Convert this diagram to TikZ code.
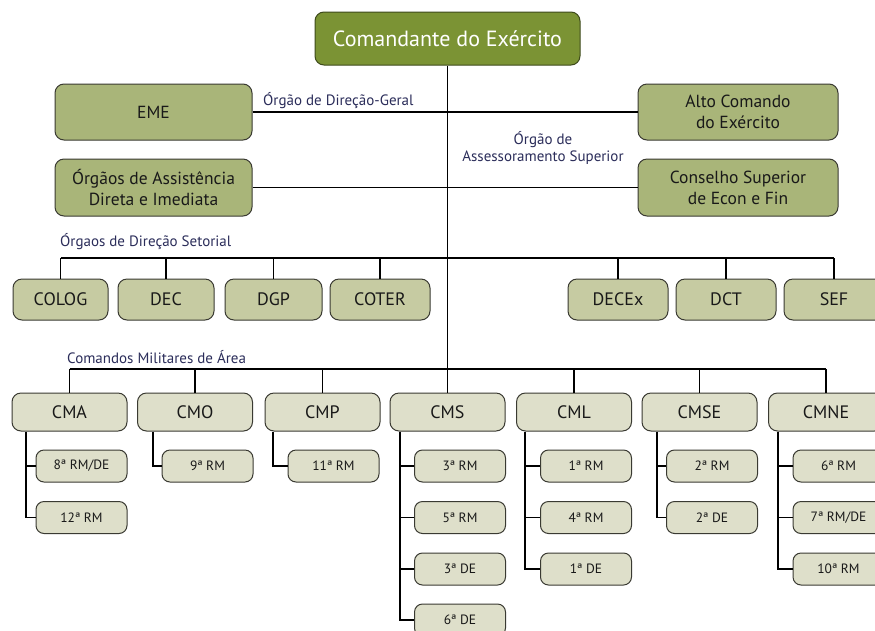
\documentclass[tikz,border=0pt]{standalone}
\usepackage{fontspec}
\setmainfont{PT Sans}
\definecolor{topfill}{HTML}{7B9334}
\definecolor{topdraw}{HTML}{3E4A1C}
\definecolor{lvtwo}{HTML}{A9B579}
\definecolor{sectfill}{HTML}{C6CBA2}
\definecolor{cmfill}{HTML}{DEDFCA}
\definecolor{boxdraw}{HTML}{3A3A32}
\definecolor{lbl}{HTML}{2B2D5A}
\begin{document}
\begin{tikzpicture}[x=1pt,y=-1pt,
  conn/.style={draw=black,line width=1.2pt},
  basebox/.style={draw=boxdraw,line width=1pt,rounded corners=9pt,align=center,inner sep=0pt,text=black!90},
  topbox/.style={basebox,fill=topfill,draw=topdraw,text=white,minimum width=265pt,minimum height=53pt,font=\fontsize{22}{25}\selectfont},
  lvbox/.style={basebox,fill=lvtwo,minimum width=197pt,minimum height=56pt,font=\fontsize{17.5}{21}\selectfont},
  secbox/.style={basebox,fill=sectfill,minimum height=41pt,font=\fontsize{18}{21}\selectfont},
  cmbox/.style={basebox,fill=cmfill,minimum width=115pt,minimum height=38pt,font=\fontsize{18}{21}\selectfont},
  subbox/.style={basebox,fill=cmfill,rounded corners=8pt,minimum width=91pt,minimum height=32pt,font=\fontsize{13.5}{15}\selectfont},
  lab/.style={text=lbl,inner sep=0pt,font=\fontsize{15}{17}\selectfont,align=center}]
\useasboundingbox (0,0) rectangle (875,630);
\clip (0,0) rectangle (875,630);
\fill[white] (0,0) rectangle (875,630);

% top
\node[topbox] (top) at (447.5,38.5) {Comandante do Exército};
% level 2
\node[lvbox] (eme) at (153.5,112) {EME};
\node[lvbox,minimum width=200pt] (alto) at (738,112) {Alto Comando\\do Exército};
\node[lvbox,minimum height=57pt] (assist) at (153.5,187.5) {Órgãos de Assistência\\Direta e Imediata};
\node[lvbox,minimum width=200pt,minimum height=57pt] (cons) at (738,187.5) {Conselho Superior\\de Econ e Fin};

% sector boxes
\node[secbox,minimum width=95pt] (colog) at (60.5,299.5) {COLOG};
\node[secbox,minimum width=96pt] (dec) at (166,299.5) {DEC};
\node[secbox,minimum width=97pt] (dgp) at (273.5,299.5) {DGP};
\node[secbox,minimum width=100pt] (coter) at (380,299.5) {COTER};
\node[secbox,minimum width=100pt] (decex) at (618,299.5) {DECEx};
\node[secbox,minimum width=100pt] (dct) at (726,299.5) {DCT};
\node[secbox,minimum width=100pt] (sef) at (834,299.5) {SEF};

% CM boxes
\node[cmbox] (cma) at (69.5,412) {CMA};
\node[cmbox] (cmo) at (195,412) {CMO};
\node[cmbox] (cmp) at (322.5,412) {CMP};
\node[cmbox] (cms) at (447.5,412) {CMS};
\node[cmbox] (cml) at (574,412) {CML};
\node[cmbox] (cmse) at (699.5,412) {CMSE};
\node[cmbox] (cmne) at (826,412) {CMNE};

% sub boxes
\node[subbox] (a1) at (81.5,466) {8ª RM/DE};
\node[subbox] (a2) at (81.5,517.5) {12ª RM};
\node[subbox] (o1) at (207.5,466) {9ª RM};
\node[subbox] (p1) at (333.5,466) {11ª RM};
\node[subbox] (s1) at (460,466) {3ª RM};
\node[subbox] (s2) at (460,517.5) {5ª RM};
\node[subbox] (s3) at (460,569) {3ª DE};
\node[subbox] (s4) at (460,620) {6ª DE};
\node[subbox] (l1) at (586,466) {1ª RM};
\node[subbox] (l2) at (586,517.5) {4ª RM};
\node[subbox] (l3) at (586,569) {1ª DE};
\node[subbox] (e1) at (712,466) {2ª RM};
\node[subbox] (e2) at (712,517.5) {2ª DE};
\node[subbox] (n1) at (838.5,466) {6ª RM};
\node[subbox] (n2) at (838.5,517.5) {7ª RM/DE};
\node[subbox] (n3) at (838.5,569) {10ª RM};

% labels
\node[lab,anchor=south west] (lg) at (263,109) {Órgão de Direção-Geral};
\node[lab] (las) at (543,148) {Órgão de\\Assessoramento Superior};
\node[lab,anchor=south west] (lds) at (60,250) {Órgaos de Direção Setorial};
\node[lab,anchor=south west] (lcm) at (67,364) {Comandos Militares de Área};

% coordinates for buses
\coordinate (sbus) at (0,258);
\coordinate (cbus) at (0,369);
\coordinate (spine) at (447.5,369);

% spine and level-2 lines
\draw[conn] (top.south) -- (spine);
\draw[conn] (eme.east) -- (alto.west);
\draw[conn] (assist.east) -- (cons.west);

% sector bus
\draw[conn] (colog.north |- sbus) -- (sef.north |- sbus);
\foreach \n in {colog,dec,dgp,coter,decex,dct,sef}
  \draw[conn] (\n.north |- sbus) -- (\n.north);

% CM bus
\draw[conn] (cma.north |- cbus) -- (cmne.north |- cbus);
\foreach \n in {cma,cmo,cmp,cms,cml,cmse,cmne}
  \draw[conn] (\n.north |- cbus) -- (\n.north);

% sub trees
\coordinate (va) at (26,0);
\coordinate (vo) at (153,0);
\coordinate (vp) at (273,0);
\coordinate (vs) at (400,0);
\coordinate (vl) at (525,0);
\coordinate (ve) at (657,0);
\coordinate (vn) at (778,0);
\draw[conn] (va |- cma.south) |- (a2.west);
\draw[conn] (va |- a1.west) -- (a1.west);
\draw[conn] (vo |- cmo.south) |- (o1.west);
\draw[conn] (vp |- cmp.south) |- (p1.west);
\draw[conn] (vs |- cms.south) |- (s4.west);
\foreach \n in {s1,s2,s3} \draw[conn] (vs |- \n.west) -- (\n.west);
\draw[conn] (vl |- cml.south) |- (l3.west);
\foreach \n in {l1,l2} \draw[conn] (vl |- \n.west) -- (\n.west);
\draw[conn] (ve |- cmse.south) |- (e2.west);
\draw[conn] (ve |- e1.west) -- (e1.west);
\draw[conn] (vn |- cmne.south) |- (n3.west);
\foreach \n in {n1,n2} \draw[conn] (vn |- \n.west) -- (\n.west);
\end{tikzpicture}
\end{document}
